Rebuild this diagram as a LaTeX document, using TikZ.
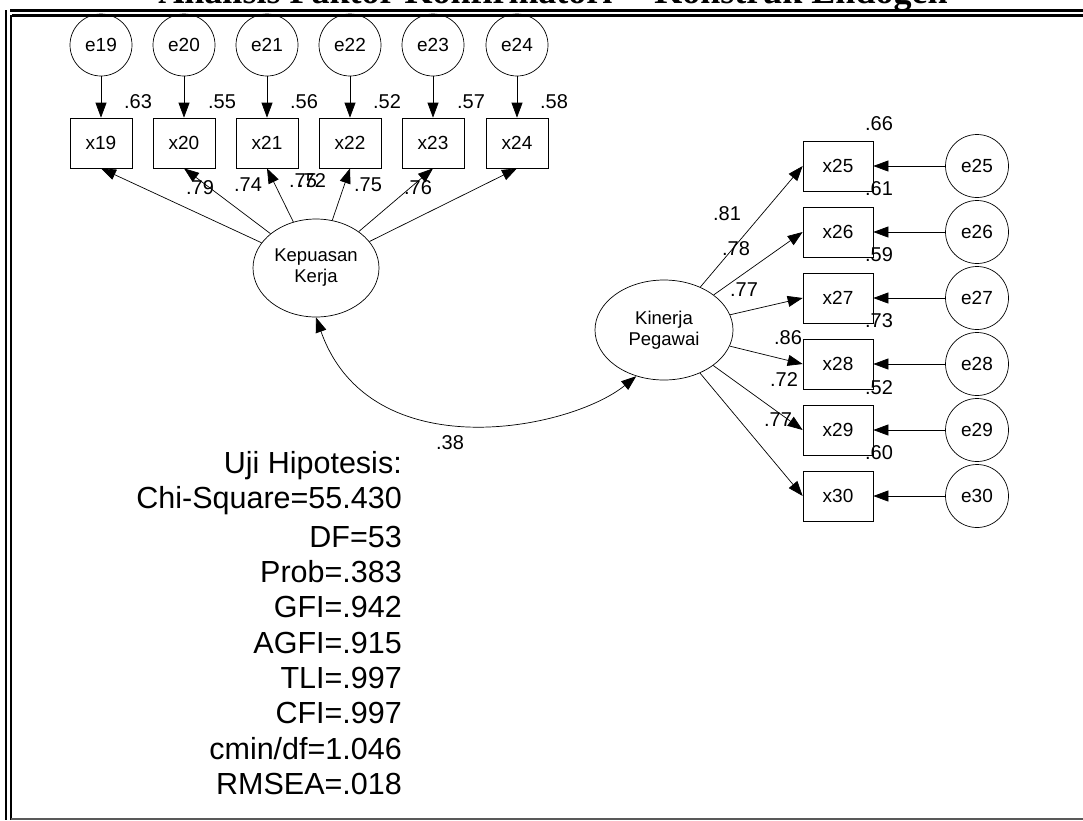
\documentclass[tikz,border=0pt]{standalone}
\usepackage{fontspec}
\setmainfont{Liberation Sans}
\newfontfamily\titlefont{Liberation Serif}
\usetikzlibrary{arrows.meta,shapes.geometric}

\begin{document}
\begin{tikzpicture}[x=1pt,y=-1pt,
  >={Triangle[length=15pt,width=11pt]},
  obsbox/.style={draw, rectangle, minimum width=62pt, minimum height=50pt,
    inner sep=0pt, line width=0.7pt, font=\fontsize{19}{22}\selectfont},
  obsboxr/.style={obsbox, minimum width=70pt},
  errc/.style={draw, circle, minimum size=62pt, inner sep=0pt,
    line width=0.7pt, font=\fontsize{19}{22}\selectfont},
  latent/.style={draw, ellipse, inner sep=0pt, align=center, line width=0.7pt,
    font=\fontsize{18.5}{21}\selectfont},
  est/.style={inner sep=0pt, font=\fontsize{20}{23}\selectfont},
  link/.style={->, line width=0.7pt},
  stat/.style={anchor=east, inner sep=0pt, font=\fontsize{30.5}{34}\selectfont},
  frame/.style={line width=3pt}
]
\useasboundingbox (0,0) rectangle (1083,820);

% title (runs off the top of the page)
\node[anchor=base, inner sep=0pt, font=\titlefont\bfseries\fontsize{36}{40}\selectfont]
  (title) at (553,3) {Analisis Faktor Konfirmatori -- Konstruk Endogen};

% frame
\draw[frame] (10,10.5) -- (1083,10.5);
\draw[frame] (12,15.5) -- (1083,15.5);
\draw[line width=2.5pt] (6,10) -- (6,820);
\draw[line width=2pt] (11,15) -- (11,820);
\draw[line width=2pt, black!65] (11,819) -- (1083,819);

% exogenous construct and its indicators
\node[latent, minimum width=126pt, minimum height=98pt] (KK) at (316,268) {Kepuasan\\Kerja};

\foreach \i/\x in {19/101, 20/184, 21/267, 22/350, 23/433, 24/517} {
  \node[obsbox] (x\i) at (\x,143) {x\i};
  \node[errc] (e\i) at (\x,45) {e\i};
  \draw[link] (e\i) -- (x\i);
  \draw[link] (KK) -- (x\i.south);
}

% squared multiple correlations (top)
\node[est] (r19) at (138,102) {.63};
\node[est] (r20) at (222,102) {.55};
\node[est] (r21) at (304,102) {.56};
\node[est] (r22) at (387,102) {.52};
\node[est] (r23) at (471,102) {.57};
\node[est] (r24) at (554,102) {.58};

% loadings (top)
\node[est] (l19) at (200,188) {.79};
\node[est] (l20) at (248,185) {.74};
\node[est] (l21) at (303,181) {.75};
\node[est] (l22) at (312,181) {.72};
\node[est] (l23) at (368,185) {.75};
\node[est] (l24) at (418,188) {.76};

% endogenous construct and its indicators
\node[latent, minimum width=138pt, minimum height=100pt] (KP) at (664,330) {Kinerja\\Pegawai};

\foreach \i/\y in {25/166, 26/232, 27/298, 28/364, 29/430, 30/496} {
  \node[obsboxr] (x\i) at (838,\y) {x\i};
  \node[errc, minimum size=63pt] (e\i) at (977,\y) {e\i};
  \draw[link] (e\i) -- (x\i);
  \draw[link] (KP) -- (x\i.west);
}

% squared multiple correlations (right)
\node[est] (r25) at (879,124) {.66};
\node[est] (r26) at (879,189) {.61};
\node[est] (r27) at (879,255) {.59};
\node[est] (r28) at (879,321) {.73};
\node[est] (r29) at (879,388) {.52};
\node[est] (r30) at (879,453) {.60};

% loadings (right)
\node[est] (l25) at (727,214) {.81};
\node[est] (l26) at (736,249) {.78};
\node[est] (l27) at (744,290) {.77};
\node[est] (l28) at (788,338) {.86};
\node[est] (l29) at (784,380) {.72};
\node[est] (l30) at (778,420) {.77};

% correlation between the constructs
\draw[<->, line width=0.7pt] (KK.south) .. controls (370,470) and (570,430) .. (KP.239);
\node[est] (cor) at (450,443) {.38};

% fit statistics
\node[stat] (s1) at (402,466) {Uji Hipotesis:};
\node[stat] (s2) at (402,501) {Chi-Square=55.430};
\node[stat] (s3) at (402,537) {DF=53};
\node[stat] (s4) at (402,572) {Prob=.383};
\node[stat] (s5) at (402,607) {GFI=.942};
\node[stat] (s6) at (402,643) {AGFI=.915};
\node[stat] (s7) at (402,678) {TLI=.997};
\node[stat] (s8) at (402,713) {CFI=.997};
\node[stat] (s9) at (402,749) {cmin/df=1.046};
\node[stat] (s10) at (402,784) {RMSEA=.018};
\end{tikzpicture}
\end{document}
